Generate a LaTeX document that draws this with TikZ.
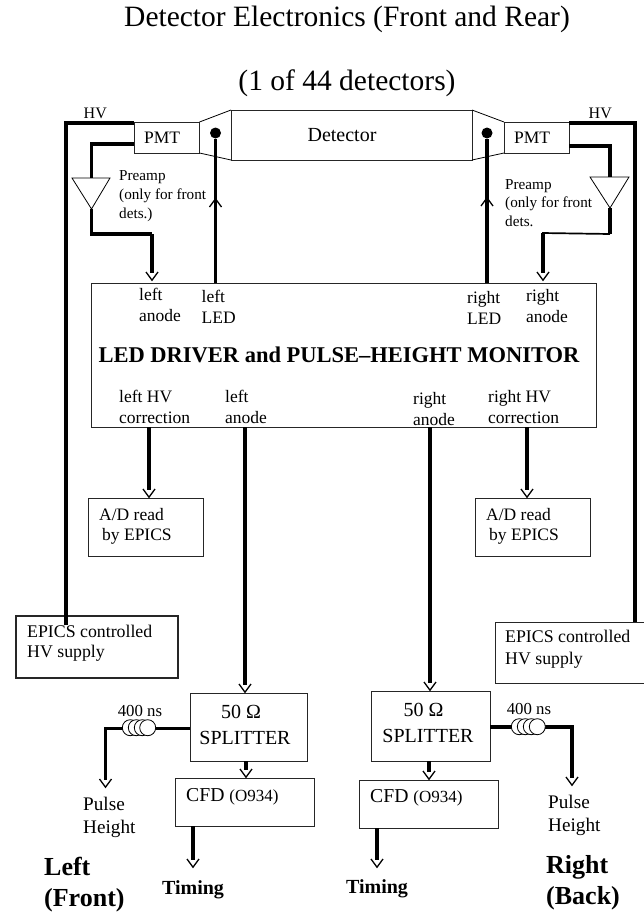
\documentclass[tikz,border=0pt]{standalone}
\usepackage{fontspec}
\setmainfont{Liberation Serif}
\usetikzlibrary{positioning}
\usetikzlibrary{arrows.meta}
\newcommand{\fsz}[2]{\fontsize{#1}{#2}\selectfont}
\pgfdeclarearrow{
	name = Chevron,
	setup code = {
		\pgfarrowssetbackend{-9pt}
		\pgfarrowssetvisualbackend{-9pt}
		\pgfarrowssetlineend{-8.5pt}
		\pgfarrowssettipend{0pt}
		\pgfarrowshullpoint{0pt}{0pt}
		\pgfarrowshullpoint{-9pt}{6pt}
		\pgfarrowshullpoint{-9pt}{-6pt}
	},
	drawing code = {
		\pgfsetlinewidth{1.3pt}
		\pgfsetdash{}{0pt}
		\pgfpathmoveto{\pgfqpoint{-9pt}{6pt}}
		\pgfpathlineto{\pgfqpoint{-0.8pt}{0pt}}
		\pgfpathlineto{\pgfqpoint{-9pt}{-6pt}}
		\pgfusepathqstroke
	}
}
\begin{document}
\begin{tikzpicture}[x=1pt, y=-1pt, >=Chevron, node distance=17pt]
    \tikzstyle{dotnode}=[circle,fill=black,minimum size=11pt,inner sep=0pt,outer sep=0pt]
    \tikzstyle{block}=[draw=black!85,rectangle,fill=none,line width=0.9pt,inner sep=0pt,outer sep=0pt]
    \tikzstyle{lbl}=[anchor=west,inner sep=0pt,align=left,font=\fsz{17.5}{21}]
    \tikzstyle{wire}=[line width=3.2pt,draw=black,line join=miter]
    \tikzstyle{hvwire}=[line width=4.4pt,draw=black,line join=miter]
    \tikzstyle{shell}=[line width=0.8pt,draw=black]
    \tikzstyle{coilturn}=[circle,draw=black,fill=white,line width=0.8pt,minimum size=16pt,inner sep=0pt,outer sep=0pt]

    \useasboundingbox (0,0) rectangle (644,913);

    \node[inner sep=0pt, font=\fsz{29.5}{29}] (title) at (347,19) {Detector Electronics (Front and Rear)};
    \node[inner sep=0pt, font=\fsz{29.5}{29}] (subtitle) at (347,83) {(1 of 44 detectors)};

    \node[block, minimum width=241pt, minimum height=50pt] (det) at (351.5,135) {};
    \node[inner sep=0pt, font=\fsz{20}{24}] (detname) at (342,135) {Detector};
    \node[block, minimum width=65.5pt, minimum height=31pt] (pmtL) at (166.75,137.5) {};
    \node[block, minimum width=65pt, minimum height=31pt] (pmtR) at (536.5,137.5) {};
    \node[lbl, right=10pt of pmtL.west] {PMT};
    \node[lbl, right=10pt of pmtR.west] {PMT};
    \draw[shell] (pmtL.north east) -- (det.north west);
    \draw[shell] (pmtL.south east) -- (det.south west);
    \draw[shell] (pmtR.north west) -- (det.north east);
    \draw[shell] (pmtR.south west) -- (det.south east);

    \node[dotnode] (dotL) at (215.5,133) {};
    \node[dotnode] (dotR) at (487,133) {};

    \node[block, minimum width=504.5pt, minimum height=144pt] (driver) at (343.75,355) {};
    \node[inner sep=0pt, font=\fsz{22.5}{24}\bfseries] (drivername) at (339,355) {LED DRIVER and PULSE--HEIGHT MONITOR};

    % driver texts
    \node[lbl] (txa) at (139,304.5) {left\\anode};
    \node[lbl] (txb) at (201.5,306.5) {left\\LED};
    \node[lbl] (txc) at (467,307.5) {right\\LED};
    \node[lbl] (txd) at (526,306.5) {right\\anode};
    \node[lbl] (txe) at (119,406.5) {left HV\\correction};
    \node[lbl] (txf) at (225,406.5) {left\\anode};
    \node[lbl] (txg) at (413,409.5) {right\\anode};
    \node[lbl] (txh) at (488,407.5) {right HV\\correction};

    \node[lbl] (hvL) at (83.5,113.5) {\fsz{16}{16}HV};
    \node[lbl] (hvR) at (588.5,113) {\fsz{16}{16}HV};
    \node[lbl, font=\fsz{15.2}{18.8}] (preL) at (119,196) {Preamp\\(only for front\\dets.)};
    \node[lbl, font=\fsz{15.2}{18.5}] (preR) at (505,203) {Preamp\\(only for front\\dets.};

    \coordinate (triLa) at (72,178);
    \coordinate (triLb) at (110,178);
    \coordinate (triLc) at (91.5,209);
    \coordinate (triRa) at (590,177);
    \coordinate (triRb) at (629,177);
    \coordinate (triRc) at (610,208);
    \draw[shell] (triLa) -- (triLb) -- (triLc) -- cycle;
    \draw[shell] (triRa) -- (triRb) -- (triRc) -- cycle;

    \node[block, minimum width=115pt, minimum height=58pt] (adL) at (145.5,527) {};
    \node[block, minimum width=115pt, minimum height=58pt] (adR) at (532.5,527) {};
    \node[lbl] at (99,515) {A/D read};
    \node[lbl] at (102,536) {by EPICS};
    \node[lbl] at (486,515) {A/D read};
    \node[lbl] at (489,536) {by EPICS};

    \node[block, line width=1.9pt, minimum width=162pt, minimum height=62pt] (epL) at (97,647) {};
    \node[block, minimum width=149pt, minimum height=61pt] (epR) at (569.5,652.5) {};
    \node[lbl, font=\fsz{17.8}{20.5}] at (27,643) {EPICS controlled\\HV supply};
    \node[lbl, font=\fsz{17.8}{21.5}] at (505,649) {EPICS controlled\\HV supply};

    \node[block, minimum width=117.5pt, minimum height=68pt] (splitL) at (248.75,727) {};
    \node[block, minimum width=119pt, minimum height=70pt] (splitR) at (430.5,726) {};
    \node[inner sep=0pt, font=\fsz{20}{20}] at (241,712) {50 Ω};
    \node[inner sep=0pt, font=\fsz{20}{20}] at (245,738) {SPLITTER};
    \node[inner sep=0pt, font=\fsz{20}{20}] at (423.5,710) {50 Ω};
    \node[inner sep=0pt, font=\fsz{20}{20}] at (428,736) {SPLITTER};

    \node[block, below=17pt of splitL, xshift=-4.25pt, minimum width=139pt, minimum height=48pt] (cfdL) {};
    \node[block, below=19pt of splitR, xshift=-2pt, minimum width=139pt, minimum height=48pt] (cfdR) {};
    \node[lbl, font=\fsz{19.7}{20}] at (186,797) {CFD {\fsz{17}{20}(O934)}};
    \node[lbl, font=\fsz{19.7}{20}] at (370,798) {CFD {\fsz{17}{20}(O934)}};

    \node[inner sep=0pt, font=\fsz{20}{20}\bfseries] (timeL) at (193,890) {Timing};
    \node[inner sep=0pt, font=\fsz{20}{20}\bfseries] (timeR) at (377,889) {Timing};
    \node[lbl, font=\fsz{19.2}{23}] (phL) at (83,817.5) {Pulse\\Height};
    \node[lbl, font=\fsz{19.2}{23}] (phR) at (548,815.5) {Pulse\\Height};
    \node[lbl, font=\fsz{26}{31}\bfseries] (sideL) at (44,884.5) {Left\\(Front)};
    \node[lbl, font=\fsz{26}{31}\bfseries] (sideR) at (546,882.5) {Right\\(Back)};

    \coordinate (tipanL) at (152,281);
    \coordinate (tipanR) at (543,281);
    \coordinate (barbL) at (215.5,198);
    \coordinate (barbR) at (487,197);
    \coordinate (corrL) at (149,427);
    \coordinate (corrR) at (527,427);
    \coordinate (anodeL) at (245,427);
    \coordinate (anodeR) at (430,427);
    \coordinate (tipphL) at (105.5,788);
    \coordinate (tipphR) at (572,786);
    \coordinate (tiptimeL) at (193,868);
    \coordinate (tiptimeR) at (377,868);

    \draw[hvwire] (pmtL.west |- 0,123) -| (66,625);
    \draw[hvwire] (pmtR.east |- 0,123) -| (635,622);

    \draw[wire] (pmtL.west |- 0,144) -| (triLa -| triLc);
    \draw[wire] (triLc) |- (152,234);
    \draw[wire,->] (152,234) -- (tipanL);
    \draw[wire] (pmtR.east |- 0,146) -| (triRa -| triRc);
    \draw[wire] (triRc) -- (610,234);
    \draw[line width=1.7pt] (610,234) -- (542,233);
    \draw[wire,->] (543,233) -- (tipanR);

    \draw[wire,->] (driver.north -| dotL) -- (barbL);
    \draw[wire] (driver.north -| dotL) -- (dotL);
    \draw[wire,->] (driver.north -| dotR) -- (barbR);
    \draw[wire] (driver.north -| dotR) -- (dotR);

    \draw[wire,->] (corrL) -- (adL.north -| corrL);
    \draw[wire,->] (corrR) -- (adR.north -| corrR);
    \draw[wire,->] (anodeL) -- (splitL.north -| anodeL);
    \draw[wire,->] (anodeR) -- (splitR.north -| anodeR);

    \draw[wire,->] (246,761) -- (cfdL.north -| 246,0);
    \draw[wire,->] (429,761) -- (cfdR.north -| 429,0);
    \draw[wire,->] (cfdL.south -| tiptimeL) -- (tiptimeL);
    \draw[wire,->] (cfdR.south -| tiptimeR) -- (tiptimeR);

    \draw[wire,->] (splitL.west |- 0,728.5) -| (tipphL);
    \draw[wire,->] (splitR.east |- 0,727) -| (tipphR);

    \foreach \i/\cx in {1/130.3,2/136.3,3/142.3,4/147.7} {
        \node[coilturn] (coilL\i) at (\cx,727.7) {};
    }
    \foreach \i/\cx in {1/519.3,2/525.3,3/531.3,4/537.3} {
        \node[coilturn] (coilR\i) at (\cx,726.7) {};
    }
    \node[inner sep=0pt, font=\fsz{16.8}{17}] (delayL) at (140,711) {400 ns};
    \node[inner sep=0pt, font=\fsz{16.8}{17}] (delayR) at (529,709) {400 ns};
\end{tikzpicture}
\end{document}
